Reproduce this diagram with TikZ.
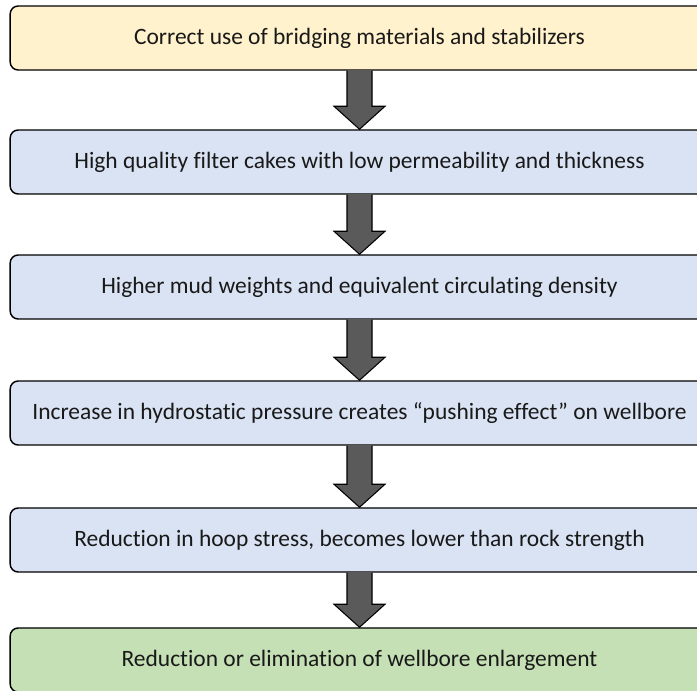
\documentclass[tikz,border=0pt]{standalone}
\usepackage{fontspec}
\setmainfont{Carlito}[Ligatures=NoCommon]
\usetikzlibrary{calc}
\definecolor{boxyellow}{HTML}{FFF2CC}
\definecolor{boxblue}{HTML}{DAE3F3}
\definecolor{boxgreen}{HTML}{C5E0B4}
\definecolor{arrowgray}{HTML}{5A5A5A}
\tikzset{
  stepbox/.style={draw=black, line width=1.1pt, rounded corners=6pt,
    minimum width=524pt, minimum height=48pt, inner sep=0pt,
    font=\fontsize{17.6}{20}\selectfont, text=black!90},
  blockarrow/.style={draw=black, line width=0.8pt, fill=arrowgray, line join=miter}
}
\begin{document}
\begin{tikzpicture}[x=0.75pt,y=-0.75pt]
\useasboundingbox (0,0) rectangle (697,691);
\clip (0,0) rectangle (697,691);
\node[stepbox, fill=boxyellow] (b1) at (359.5,38) {Correct use of bridging materials and stabilizers};
\node[stepbox, fill=boxblue] (b2) at (359.5,162) {High quality filter cakes with low permeability and thickness};
\node[stepbox, fill=boxblue] (b3) at (359.5,287) {Higher mud weights and equivalent circulating density};
\node[stepbox, fill=boxblue] (b4) at (359.5,413) {Increase in hydrostatic pressure creates “pushing effect” on wellbore};
\node[stepbox, fill=boxblue] (b5) at (359.5,540) {Reduction in hoop stress, becomes lower than rock strength};
\node[stepbox, fill=boxgreen] (b6) at (359.5,660) {Reduction or elimination of wellbore enlargement};
\foreach \a/\b in {b1/b2,b2/b3,b3/b4,b4/b5,b5/b6}{
  \draw[blockarrow] ($(\a.south)+(-12.5,0)$) -- ($(\b.north)+(-12.5,-23)$)
    -- ($(\b.north)+(-25.5,-23)$) -- (\b.north) -- ($(\b.north)+(25.5,-23)$)
    -- ($(\b.north)+(12.5,-23)$) -- ($(\a.south)+(12.5,0)$);
}
\end{tikzpicture}
\end{document}
